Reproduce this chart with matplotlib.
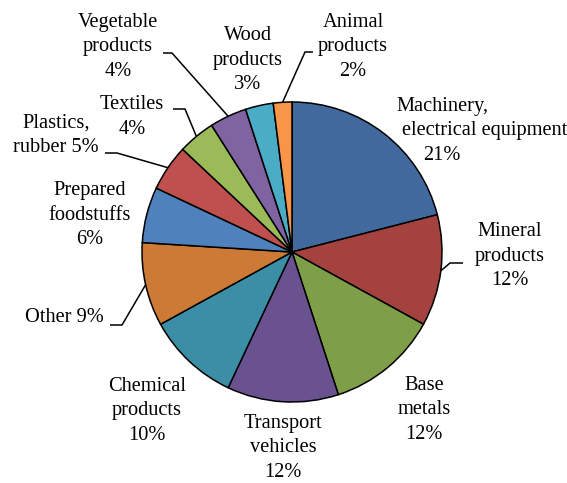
import matplotlib.pyplot as plt
import numpy as np

# Data (share of exports, %), clockwise from 12 o'clock
categories = [
    "Machinery,\nelectrical equipment",
    "Mineral\nproducts",
    "Base\nmetals",
    "Transport\nvehicles",
    "Chemical\nproducts",
    "Other",
    "Prepared\nfoodstuffs",
    "Plastics,\nrubber",
    "Textiles",
    "Vegetable\nproducts",
    "Wood\nproducts",
    "Animal\nproducts",
]
shares = [21, 12, 12, 12, 10, 9, 6, 5, 4, 4, 3, 2]
pct_sep = ["\n", "\n", "\n", "\n", "\n", " ", "\n", " ", "\n", "\n", "\n", "\n"]

colors = [
    "#41699d", "#a4423f", "#7f9e48", "#6a5290", "#3b8ea6", "#cc7a36",
    "#4f81bd", "#c0504d", "#9bbb59", "#8064a2", "#4bacc6", "#f79646",
]

# Layout in pixel coordinates (origin top-left)
W, H = 567, 483
cx, cy, R = 292, 252, 150
label_pos = [
    (442, 131), (510, 256), (424, 410), (283, 448), (147, 411), (64, 318),
    (90, 215), (56, 135), (132, 117), (118, 47), (248, 60), (353, 47),
]
# per-line horizontal shift (Machinery label is offset in the original)
line_shift = {0: [0, 43, 0]}
# leader lines: points near label, final point on slice edge is computed
leaders = {
    1: [(463, 263), (450, 263)],
    5: [(110, 325), (122, 325)],
    7: [(105, 153), (117, 153)],
    8: [(173, 109), (185, 109)],
    9: [(163, 53), (172, 53)],
    11: [(313, 52), (305, 52)],
}
line_h = 24.5

fig = plt.figure(figsize=(W / 100, H / 100), dpi=100)
ax = fig.add_axes([0, 0, 1, 1])


def py(y):
    return H - y


wedges, _ = ax.pie(
    shares,
    colors=colors,
    startangle=90,
    counterclock=False,
    center=(cx, py(cy)),
    radius=R,
    wedgeprops=dict(edgecolor="black", linewidth=1.1),
    frame=True,
)
ax.set_xlim(0, W)
ax.set_ylim(0, H)
ax.set_aspect("equal")
ax.axis("off")

font = dict(family="Liberation Serif", fontsize=14.7, color="black")

for i, (name, val) in enumerate(zip(categories, shares)):
    text = f"{name}{pct_sep[i]}{val}%"
    lines = text.split("\n")
    x0, y0 = label_pos[i]
    n = len(lines)
    shifts = line_shift.get(i, [0] * n)
    for k, line in enumerate(lines):
        yk = y0 + (k - (n - 1) / 2) * line_h
        ax.text(x0 + shifts[k], py(yk), line, ha="center", va="center", **font)

    if i in leaders:
        w = wedges[i]
        mid = np.deg2rad((w.theta1 + w.theta2) / 2)
        end = (cx + R * np.cos(mid), py(cy) + R * np.sin(mid))
        pts = [(x, py(y)) for x, y in leaders[i]] + [end]
        xs, ys = zip(*pts)
        ax.plot(xs, ys, color="black", linewidth=1.1, solid_capstyle="butt")

fig.savefig("out.png", dpi=100)
